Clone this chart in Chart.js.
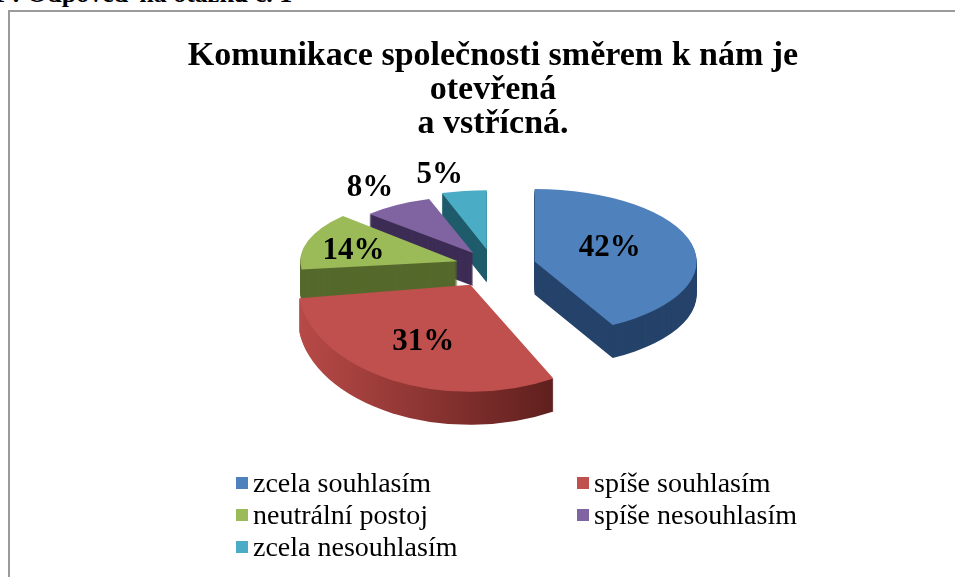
<!DOCTYPE html>
<html>
<head>
<meta charset="utf-8">
<script src="https://cdn.jsdelivr.net/npm/chart.js@4/dist/chart.umd.min.js"></script>
<style>
  body { margin: 0; background: #fff; width: 955px; height: 577px; overflow: hidden; position: relative; font-family: "Liberation Serif", serif; }
  #caption { position: absolute; top: -21px; left: -68px; font-weight: bold; font-size: 26px; line-height: 30px; white-space: nowrap; color: #000; }
  #frame { position: absolute; left: 8px; top: 10px; width: 960px; height: 580px; border-left: 2px solid #9a9a9a; border-top: 2px solid #9a9a9a; }
  #chart { position: absolute; left: 10px; top: 12px; }
  #legend { position: absolute; left: 236px; top: 467px; display: grid; grid-template-columns: 341px auto; font-size: 28px; color: #000; }
  .item { display: flex; align-items: center; height: 32px; white-space: nowrap; }
  .box { width: 12px; height: 12px; margin-right: 5px; flex: none; }
</style>
</head>
<body>
<div id="caption">Graf 1 : Odpověď na otázku č. 1</div>
<div id="frame"></div>
<canvas id="chart" width="945" height="565"></canvas>
<div id="legend"></div>
<script>
// data
const titleLines = ['Komunikace společnosti směrem k nám je', 'otevřená', 'a vstřícná.'];
const labels = ['zcela souhlasím', 'spíše souhlasím', 'neutrální postoj', 'spíše nesouhlasím', 'zcela nesouhlasím'];
const values = [42, 31, 14, 8, 5];

// look
const colors = ['#4F81BD', '#C0504D', '#9BBB59', '#8064A2', '#4BACC6'];
const sideColors = ['#25436a', null, '#55692c', '#3d2d55', '#1f5c6b'];
const explode = [43, 50, 37, 37, 40];     // px along each slice's middle angle
const scaleX = [1.08, 1.15, 1.05, 0.95, 0.97];  // fake perspective
const scaleY = [1.15, 1.7, 1.05, 0.9, 0.94];
const labelAt = [0.5, 0.6, 0.68, 1.35, 1.3];     // fraction of radius
const labelTurn = [0.45, 0.5, 0.4, 0.5, 0.2];    // 0 = slice start, 1 = slice end
const TILT = 0.42, DEPTH = 33, RADIUS = 150;
const SERIF = '"Liberation Serif", serif';

// shift the cut-off caption so "Odpověď" starts where it does in the document
(function () {
  const c = document.createElement('canvas').getContext('2d');
  c.font = 'bold 26px ' + SERIF;
  document.getElementById('caption').style.left = (27 - c.measureText('Graf 1 : ').width) + 'px';
})();

const pie3d = {
  id: 'pie3d',
  beforeDatasetsDraw(chart) {
    const ctx = chart.ctx;
    const arcs = chart.getDatasetMeta(0).data;
    const order = [4, 3, 2, 0, 1]; // back to front

    const place = (i, arc, drop) => {
      const h = (arc.startAngle + arc.endAngle) / 2;
      ctx.translate(0, drop);
      ctx.translate(arc.x, arc.y);
      ctx.scale(1, TILT);
      ctx.translate(Math.cos(h) * explode[i], Math.sin(h) * explode[i]);
      ctx.scale(scaleX[i], scaleY[i]);
      ctx.translate(-arc.x, -arc.y);
    };

    // side walls: the slice stacked downwards in a dark tone
    order.forEach(i => {
      const arc = arcs[i];
      let side = sideColors[i];
      if (!side) {
        side = ctx.createLinearGradient(arc.x - arc.outerRadius, 0, arc.x + arc.outerRadius * 0.5, 0);
        side.addColorStop(0, '#b84a47');
        side.addColorStop(1, '#5e1f1d');
      }
      const ghost = Object.create(arc);
      ghost.options = Object.assign({}, arc.options, { backgroundColor: side });
      for (let d = DEPTH; d > 0; d--) {
        ctx.save(); place(i, arc, d); ghost.draw(ctx); ctx.restore();
      }
    });

    // top faces
    order.forEach(i => {
      ctx.save(); place(i, arcs[i], 0); arcs[i].draw(ctx); ctx.restore();
    });

    // percentage labels
    ctx.save();
    ctx.font = 'bold 31px ' + SERIF;
    ctx.fillStyle = '#000';
    ctx.textAlign = 'center';
    ctx.textBaseline = 'middle';
    order.forEach(i => {
      const arc = arcs[i];
      const a = arc.startAngle + (arc.endAngle - arc.startAngle) * labelTurn[i];
      const r = arc.outerRadius * labelAt[i];
      ctx.save(); place(i, arc, 0);
      const m = ctx.getTransform();
      ctx.restore();
      const p = m.transformPoint(new DOMPoint(arc.x + Math.cos(a) * r, arc.y + Math.sin(a) * r));
      ctx.fillText(values[i] + '%', p.x, p.y);
    });
    ctx.restore();
    return false;
  }
};

const chart = new Chart(document.getElementById('chart'), {
  type: 'pie',
  data: {
    labels,
    datasets: [{ data: values, backgroundColor: colors, borderWidth: 0, radius: RADIUS, clip: false }]
  },
  options: {
    responsive: false,
    animation: false,
    events: [],
    layout: { padding: { left: 21, right: 0, top: 0, bottom: 196 } },
    plugins: {
      legend: { display: false },
      tooltip: { enabled: false },
      title: {
        display: true,
        text: titleLines,
        color: '#000',
        font: { family: SERIF, size: 34, weight: 'bold', lineHeight: 1.0 },
        padding: { top: 27, bottom: 10 }
      }
    }
  },
  plugins: [pie3d]
});

// legend in two columns, like the office chart
const legendEl = document.getElementById('legend');
labels.forEach((name, i) => {
  const item = document.createElement('div');
  item.className = 'item';
  item.innerHTML = '<span class="box" style="background:' + colors[i] + '"></span>' + name;
  legendEl.appendChild(item);
});
</script>
</body>
</html>
